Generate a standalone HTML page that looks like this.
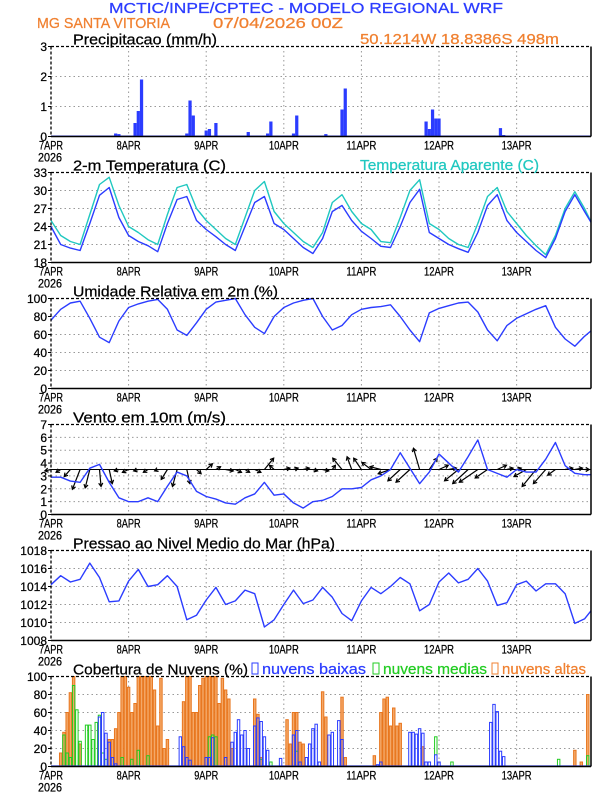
<!DOCTYPE html>
<html><head><meta charset="utf-8">
<style>
html,body{margin:0;padding:0;background:#fff;}
svg{display:block;font-family:"Liberation Sans",sans-serif;}
svg text{stroke:currentColor;stroke-width:0.25;}
</style></head>
<body>
<svg id="c" width="612" height="792" viewBox="0 0 612 792" xmlns="http://www.w3.org/2000/svg">
<text x="109" y="13" font-size="15" fill="#2b3cff" style="color:#2b3cff" textLength="394" lengthAdjust="spacingAndGlyphs">MCTIC/INPE/CPTEC - MODELO REGIONAL WRF</text>
<text x="37" y="28" font-size="15" fill="#f08030" style="color:#f08030" textLength="133" lengthAdjust="spacingAndGlyphs">MG SANTA VITORIA</text>
<text x="213" y="28" font-size="15" fill="#f08030" style="color:#f08030" textLength="130" lengthAdjust="spacingAndGlyphs">07/04/2026 00Z</text>
<text x="360" y="44" font-size="15" fill="#f08030" style="color:#f08030" textLength="199" lengthAdjust="spacingAndGlyphs">50.1214W 18.8386S 498m</text>
</svg>
<script>
// ---------- data ----------
const dayLabels = ["7APR","8APR","9APR","10APR","11APR","12APR","13APR"];
const precipHours = [20,21,26,27,28,42,43,44,48,49,51,61,67,68,75,76,85,90,91,116,117,118,119,120,139,140];
const precipVals  = [0.1,0.08,0.45,0.85,1.9,0.1,1.2,0.7,0.2,0.25,0.45,0.15,0.1,0.5,0.1,0.7,0.08,0.9,1.6,0.5,0.25,0.9,0.6,0.6,0.28,0.05];
const precipTicks = [0,1,2,3];
const tempVals = [24.0,21.0,20.4,20.0,24.5,29.2,30.5,25.5,
  22.5,21.5,20.8,19.8,24.5,28.5,29.0,25.0,
  23.5,22.3,21.0,20.0,24.0,28.0,29.0,24.5,
  23.5,22.0,20.5,19.5,22.0,26.5,27.5,25.0,
  23.2,22.0,20.7,20.5,24.0,28.0,30.2,23.0,
  22.0,21.0,20.3,19.7,23.0,27.5,29.3,25.0,
  23.0,21.5,20.0,18.8,22.0,26.5,29.3,26.5,24.7];
const appTempVals = [25.0,22.5,21.5,21.0,26.0,31.0,32.2,27.5,
  24.0,23.0,21.8,21.0,26.0,30.5,31.0,27.0,
  25.0,23.5,22.0,21.0,25.5,30.0,31.5,26.5,
  24.5,23.0,21.5,20.5,23.0,28.0,29.3,26.5,
  24.5,23.5,21.5,21.3,25.5,30.0,31.8,24.5,
  23.5,22.0,21.0,20.5,24.5,29.0,30.5,26.5,
  24.5,22.5,20.8,19.3,22.5,27.0,29.8,27.0,24.8];
const tempTicks = [18,21,24,27,30,33];
const rhVals = [76,88,95,97,78,57,51,75,
  90,94,97,99,88,65,59,73,
  88,96,98,100,82,68,61,80,
  90,95,98,100,80,65,70,82,
  88,90,91,93,80,65,52,84,
  89,92,95,96,85,65,53,70,
  78,83,88,92,68,55,47,58,64];
const rhTicks = [0,20,40,60,80,100];
const windVals = [2.9,2.9,2.6,2.5,3.6,3.9,2.5,1.3,
  1.0,1.0,1.3,1.0,2.2,3.3,3.0,1.8,
  1.4,1.2,0.9,0.8,1.3,1.6,2.5,1.5,
  1.6,0.9,0.5,1.0,1.1,1.4,2.0,2.0,
  2.1,2.7,3.0,3.5,4.8,3.6,2.4,3.3,
  4.7,4.0,3.3,4.5,5.8,3.5,3.2,2.9,
  3.5,3.3,3.3,4.3,5.6,3.8,3.2,3.1,3.1];
const windU = [-0.4,-0.3,-0.4,-0.5,-0.3,0.1,0.2,-0.3,
  -0.4,-0.3,-0.3,-0.2,-0.4,-0.3,0.2,0.3,
  0.4,0.3,0.5,0.4,0.3,0.4,0.6,-0.3,
  0.4,0.3,0.4,0.3,0.4,0.2,-0.6,-0.3,
  -0.5,-0.6,-0.7,-0.8,-0.8,-0.9,-0.4,0.5,
  0.6,0.5,-0.9,-1.0,-1.2,-0.8,0.6,0.4,
  0.3,-0.8,-0.9,-0.8,-0.5,0.5,0.5,0.3];
const windV = [-0.1,-0.2,-0.5,-1.4,-1.3,-1.2,-1.0,-0.1,
  -0.2,-0.1,-0.2,-0.1,-0.7,-1.2,-1.0,-0.3,
  0.4,0.2,-0.1,-0.2,-0.2,-0.2,0.8,0.3,
  0.1,0.1,0.1,-0.1,-0.1,0.3,0.8,0.9,
  0.8,0.5,0.2,-0.3,-0.8,-0.9,1.5,0.8,
  0.3,0.1,-0.8,-1.0,-0.9,-0.6,0.3,0.1,
  0.1,-0.5,-1.2,-1.0,-0.4,0.1,0.1,0.0];
const windTicks = [0,1,2,3,4,5,6,7];
const presVals = [1014.2,1015.2,1014.5,1014.8,1016.6,1015.0,1012.3,1012.4,
  1014.6,1015.9,1014.0,1014.2,1015.2,1014.0,1010.3,1010.8,
  1012.5,1013.9,1012.0,1012.4,1013.6,1013.2,1009.5,1010.3,
  1012.0,1013.6,1012.1,1012.5,1013.9,1012.8,1011.0,1010.2,
  1012.4,1013.9,1013.2,1014.0,1015.0,1014.3,1011.3,1012.0,
  1014.5,1015.5,1014.4,1014.8,1016.0,1014.6,1011.9,1012.2,
  1014.2,1014.6,1013.5,1014.3,1014.3,1013.2,1009.9,1010.4,1011.3];
const presTicks = [1008,1010,1012,1014,1016,1018];
const highHours = [3,4,5,6,7,9,18,19,20,21,22,23,24,25,26,27,28,29,30,31,32,33,34,35,36,41,42,43,44,45,46,47,48,49,50,51,52,53,54,55,56,63,64,65,73,74,75,76,77,78,84,85,90,91,100,102,103,104,105,106,107,108,115,162,164,166];
const highVals  = [15,38,60,82,100,25,30,30,42,60,100,100,88,60,70,100,100,100,100,100,85,45,98,20,30,72,100,100,60,60,90,98,100,100,100,100,70,98,85,75,20,75,58,10,52,25,60,60,27,25,83,55,77,10,12,60,75,77,45,65,45,48,22,18,5,80];
const lowHours = [15,16,17,18,19,20,40,41,42,43,48,49,50,54,56,57,58,59,60,61,63,64,65,66,67,71,75,76,77,79,80,81,82,83,86,87,89,90,101,102,111,112,113,114,115,116,117,119,120,136,137,138,139,140];
const lowVals  = [55,60,37,27,10,3,33,22,10,7,10,10,32,10,27,38,52,35,40,20,45,54,50,33,18,9,35,40,5,10,25,42,47,5,35,38,51,30,2,5,38,38,36,42,37,5,5,13,5,49,69,61,17,11];
const midHours = [4,5,6,7,8,9,11,12,13,14,15,16,17,22,25,27,30,49,50,51,65,68,76,119,124,157,166];
const midVals  = [35,15,10,90,63,28,46,46,30,49,57,15,8,10,8,18,12,33,35,33,8,5,17,33,5,8,12];
const cloudTicks = [0,20,40,60,80,100];

// ---------- helpers ----------
const NS = "http://www.w3.org/2000/svg";
const svg = document.getElementById("c");
const X0 = 51, X1 = 591, HMAX = 167;
const X = h => X0 + h * (X1 - X0) / HMAX;
const PH = 90;
function mk(tag, attrs, parent) {
  const e = document.createElementNS(NS, tag);
  for (const k in attrs) e.setAttribute(k, attrs[k]);
  (parent || svg).appendChild(e);
  return e;
}
function yScale(top, min, max) { return v => top + PH - (v - min) / (max - min) * PH; }
const seriesHour = i => Math.min(i * 3, HMAX);

function panel(name, top, ticks, title, titleLen) {
  const g = mk("g", {});
  
  
  const Y = yScale(top, ticks[0], ticks[ticks.length - 1]);
  ticks.forEach((t, i) => {
    if (i === 0 || i === ticks.length - 1) return;
    const l = mk("line", {x1: X0, x2: X1, y1: Y(t), y2: Y(t), stroke: "#999", "stroke-width": 1, "stroke-dasharray": "1.5,3"}, g);
    
    
  });
  dayLabels.forEach((d, i) => {
    if (i > 0) {
      const l = mk("line", {x1: X(i * 24), x2: X(i * 24), y1: top, y2: top + PH, stroke: "#999", "stroke-width": 1, "stroke-dasharray": "1.5,3"}, g);
      
      
    }
    const t = mk("text", {x: X(i * 24), y: top + PH + 13, "font-size": 12, "text-anchor": "middle", fill: "#000", textLength: d.length * 6, lengthAdjust: "spacingAndGlyphs"}, g);
    t.textContent = d;
    
    
  });
  const yr = mk("text", {x: 38, y: top + PH + 25, "font-size": 12, fill: "#000", textLength: 24, lengthAdjust: "spacingAndGlyphs"}, g);
  yr.textContent = "2026";
  
  
  ticks.forEach(t => {
    const lb = mk("text", {x: 47, y: Y(t) + 4.5, "font-size": 12, "text-anchor": "end", fill: "#000"}, g);
    lb.textContent = t;
    
    
    const tk = mk("line", {x1: 48, x2: X0, y1: Y(t), y2: Y(t), stroke: "#000", "stroke-width": 1}, g);
    
    
  });
  const tt = mk("text", {x: 73, y: top - 2, "font-size": 15, fill: "#000", textLength: titleLen, lengthAdjust: "spacingAndGlyphs"}, g);
  tt.textContent = title;
  
  
  const marks = mk("g", {}, g);
  
  
  const fr = mk("g", {}, g);
  
  
  mk("line", {x1: X0, x2: X1, y1: top, y2: top, stroke: "#000", "stroke-width": 1.3, "stroke-dasharray": "3,2"}, fr);
  mk("line", {x1: X0, x2: X0, y1: top, y2: top + PH, stroke: "#000", "stroke-width": 1.3, "stroke-dasharray": "3,2"}, fr);
  mk("line", {x1: X1, x2: X1, y1: top, y2: top + PH, stroke: "#000", "stroke-width": 1.5}, fr);
  mk("line", {x1: X0, x2: X1, y1: top + PH, y2: top + PH, stroke: "#000", "stroke-width": 1.5}, fr);
  return {Y, marks, g};
}
function line(p, vals, color, name) {
  const d = vals.map((v, i) => (i ? "L" : "M") + X(seriesHour(i)).toFixed(2) + "," + p.Y(v).toFixed(2)).join("");
  const e = mk("path", {d, fill: "none", stroke: color, "stroke-width": 1.4, "stroke-linejoin": "round"}, p.marks);
  
  
}
const BW = (X1 - X0) / HMAX;

// ---------- panels ----------
const pP = panel("precipitation", 46.5, precipTicks, "Precipitacao (mm/h)", 144);
precipHours.forEach((h, i) => {
  const y = pP.Y(precipVals[i]);
  const r = mk("rect", {x: X(h) - BW / 2, y, width: BW, height: pP.Y(0) - y, fill: "#2b3cff"}, pP.marks);
  
  
});
const bl = mk("line", {x1: X0, x2: X1, y1: pP.Y(0) - 0.5, y2: pP.Y(0) - 0.5, stroke: "#2b3cff", "stroke-width": 1}, pP.marks);



const pT = panel("temperature", 172.5, tempTicks, "2-m Temperatura (C)", 153);
const lt = mk("text", {x: 360, y: 170, "font-size": 15, fill: "#20c8c0", style: "color:#20c8c0", textLength: 179, lengthAdjust: "spacingAndGlyphs"}, pT.g);
lt.textContent = "Temperatura Aparente (C)";


line(pT, appTempVals, "#20c8c0", "apparent-temp-line");
line(pT, tempVals, "#2b3cff", "temp-line");

const pR = panel("humidity", 298.5, rhTicks, "Umidade Relativa em 2m (%)", 205);
line(pR, rhVals, "#2b3cff", "humidity-line");

const pW = panel("wind", 424.5, windTicks, "Vento em 10m (m/s)", 153);
const unit = PH / 7;
windU.forEach((u, i) => {
  const x0 = X(i * 3), y0 = pW.Y(3.5);
  const x1 = x0 + u * unit * 1.2, y1 = y0 - windV[i] * unit * 1.1;
  const ang = Math.atan2(y1 - y0, x1 - x0);
  const g = mk("g", {}, pW.marks);
  
  
  mk("line", {x1: x0, y1: y0, x2: x1, y2: y1, stroke: "#000", "stroke-width": 1.2}, g);
  const a1 = ang + 2.6, a2 = ang - 2.6;
  mk("path", {d: `M${x1 + 4 * Math.cos(a1)},${y1 + 4 * Math.sin(a1)}L${x1},${y1}L${x1 + 4 * Math.cos(a2)},${y1 + 4 * Math.sin(a2)}`, fill: "none", stroke: "#000", "stroke-width": 1.2}, g);
});
const wb = mk("line", {x1: X0, x2: X1, y1: pW.Y(3.5), y2: pW.Y(3.5), stroke: "#000", "stroke-width": 1}, pW.marks);


line(pW, windVals, "#2b3cff", "wind-speed-line");

const pS = panel("pressure", 550.5, presTicks, "Pressao ao Nivel Medio do Mar (hPa)", 262);
line(pS, presVals, "#2b3cff", "pressure-line");

const pC = panel("clouds", 676.5, cloudTicks, "Cobertura de Nuvens (%)", 175);
function bars(hours, vals, stroke, fill, name) {
  hours.forEach((h, i) => {
    const y = pC.Y(vals[i]);
    const r = mk("rect", {x: X(h) - BW / 2 + 0.4, y, width: BW - 0.8, height: pC.Y(0) - y, fill, stroke, "stroke-width": 1}, pC.marks);
    
    
  });
}
bars(highHours, highVals, "#e8761e", "#f4a868", "high-cloud-bar");
bars(midHours, midVals, "#22cc22", "none", "mid-cloud-bar");
bars(lowHours, lowVals, "#2b3cff", "none", "low-cloud-bar");
const cb = mk("line", {x1: X0, x2: X1, y1: pC.Y(0) - 0.5, y2: pC.Y(0) - 0.5, stroke: "#2b3cff", "stroke-width": 1.2}, pC.marks);


const legend = [["nuvens baixas", "#2b3cff", 252, 104], ["nuvens medias", "#22cc22", 373, 104], ["nuvens altas", "#f08030", 492, 84]];
legend.forEach(([t, c, x, w]) => {
  const g = mk("g", {}, pC.g);
  
  
  mk("rect", {x, y: 663, width: 6, height: 11, fill: "none", stroke: c, "stroke-width": 1}, g);
  const tx = mk("text", {x: x + 10, y: 674, "font-size": 15, fill: c, style: "color:" + c, textLength: w, lengthAdjust: "spacingAndGlyphs"}, g);
  tx.textContent = t;
});
</script>
</body></html>
